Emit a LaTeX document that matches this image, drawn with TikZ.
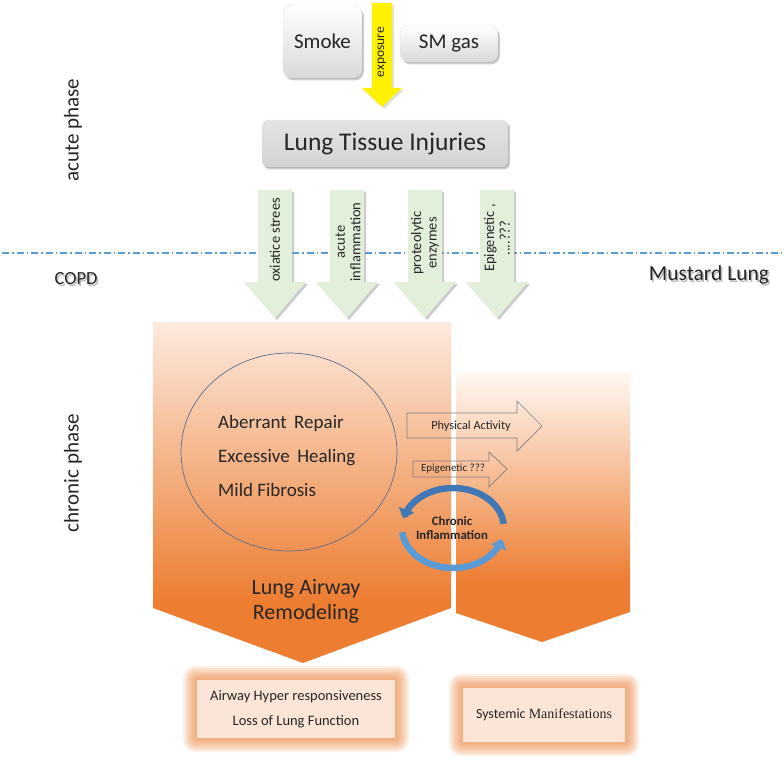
\documentclass[tikz,border=0pt]{standalone}
\usepackage{fontspec}
\setmainfont{Carlito}
\newfontfamily\timesf{Liberation Serif}
\usetikzlibrary{shadows,arrows.meta,calc,shapes.geometric}
\definecolor{orD}{HTML}{ED7D31}
\definecolor{orT}{HTML}{FCEADE}
\definecolor{orTT}{HTML}{FFF9F4}
\definecolor{grn}{HTML}{E2EFDA}
\definecolor{blu}{HTML}{5B9BD5}
\definecolor{bluD}{HTML}{3F78B5}
\definecolor{peach}{HTML}{FBE5D6}
\definecolor{cirl}{HTML}{5A6F8F}
\definecolor{ink}{HTML}{262626}
\pgfdeclareverticalshading{orgL}{100bp}{color(0bp)=(orD); color(34bp)=(orD); color(75bp)=(orT); color(100bp)=(orT)}
\pgfdeclareverticalshading{orgR}{100bp}{color(0bp)=(orD); color(36bp)=(orD); color(75bp)=(orTT); color(100bp)=(orTT)}
\begin{document}
\begin{tikzpicture}[x=1pt,y=-1pt,
  txt/.style={text=ink, inner sep=0pt},
  softshadow/.style={drop shadow={shadow xshift=2pt, shadow yshift=-2.5pt, fill=black, opacity=0.18},
                     drop shadow={shadow xshift=1pt, shadow yshift=-1.2pt, fill=black, opacity=0.12}},
  topbox/.style={rounded corners=9pt, top color=white, bottom color=black!15, draw=black!10, line width=0.4pt,
     softshadow, inner sep=0pt},
  greyshadow/.style={drop shadow={shadow xshift=2pt, shadow yshift=-2pt, fill=black!45, opacity=0.45}},
  smallarrow/.style={draw=black!50, line width=0.7pt},
  peachbox/.style={fill=peach, inner sep=0pt, align=center, text=ink},
  shadowtxt/.style={text=black!60, opacity=0.45, inner sep=0pt}
]
\useasboundingbox (0,0) rectangle (784,762);
\fill[white] (0,0) rectangle (784,762);

% phase labels
\node[txt, rotate=90, font=\fontsize{21}{25}\selectfont] (acute) at (73,130) {acute phase};
\node[txt, rotate=90, font=\fontsize{21}{25}\selectfont] (chronic) at (73,473) {chronic phase};

% dash-dot separator
\coordinate (dl) at (2,253);
\coordinate (dr) at (784,253);
\draw[blu, line width=1.2pt, dash pattern=on 7pt off 3pt on 1.5pt off 3pt] (dl) -- (dr);

\node[shadowtxt, font=\fontsize{18.5}{22}\selectfont] at (77.5,280.5) {COPD};
\node[txt, font=\fontsize{18.5}{22}\selectfont] (copd) at (76,279) {COPD};
\node[shadowtxt, font=\fontsize{21.5}{25}\selectfont] at (710.5,276.5) {Mustard Lung};
\node[txt, font=\fontsize{21.5}{25}\selectfont] (mustard) at (709,275) {Mustard Lung};

% top boxes
\node[topbox, minimum width=79pt, minimum height=73pt, font=\fontsize{21}{25}\selectfont, text=ink] (smoke) at (322.5,41.5) {Smoke};
\node[topbox, minimum width=98pt, minimum height=37pt, font=\fontsize{21}{25}\selectfont, text=ink] (smgas) at (449,43.5) {SM gas};

% yellow exposure arrow
\fill[black!30, opacity=0.4] (374,5) -- (394,5) -- (394,90) -- (404,90) -- (384,109) -- (364,90) -- (374,90) -- cycle;
\fill[yellow] (372,3) -- (392,3) -- (392,88) -- (402,88) -- (382,107) -- (362,88) -- (372,88) -- cycle;
\node[txt, rotate=90, font=\fontsize{13.5}{15}\selectfont] (exposure) at (382,52) {exposure};

% lung tissue injuries
\node[rounded corners=6pt, top color=black!11, bottom color=black!17, inner sep=0pt, softshadow,
      minimum width=246pt, minimum height=47pt, font=\fontsize{25.5}{30}\selectfont, text=ink] (lti) at (385,143.5) {Lung Tissue Injuries};

% orange chevrons
\shade[shading=orgR] (456,372) -- (630,372) -- (630,612) -- (542,642) -- (456,613) -- cycle;
\shade[shading=orgL] (153,322) -- (451,322) -- (451,608) -- (303,663) -- (153,608) -- cycle;

% green arrows
\foreach \c in {275,347,425,497}{
  \path[fill=grn, greyshadow] ({\c-17},190) -- ({\c+17},190) -- ({\c+17},282) -- ({\c+31},282) -- (\c,318) -- ({\c-31},282) -- ({\c-17},282) -- cycle;
}
\node[txt, rotate=90, font=\fontsize{14.5}{15.5}\selectfont, align=center] (g1) at (275,240) {oxiatice strees};
\node[txt, rotate=90, font=\fontsize{14.5}{15.5}\selectfont, align=center] (g2) at (348,242) {acute\\inflammation};
\node[txt, rotate=90, font=\fontsize{14.5}{15.5}\selectfont, align=center] (g3) at (425,243) {proteolytic\\enzymes};
\node[txt, rotate=90, font=\fontsize{14.5}{15.5}\selectfont, align=center] (g4) at (497,238) {Epigenetic ,\\....???};

% circle
\node[ellipse, draw=cirl, line width=0.7pt, minimum width=216pt, minimum height=198pt, inner sep=0pt] (circ) at (289,452) {};
\node[txt, anchor=west, align=left, font=\fontsize{19}{34}\selectfont] (circtxt) at (218,456) {Aberrant\, Repair\\Excessive\, Healing\\Mild Fibrosis};

\node[txt, align=center, font=\fontsize{22}{25}\selectfont] (law) at (306,601.5) {Lung Airway\\Remodeling};

% small arrows
\draw[smallarrow] (407,413) -- (517,413) -- (517,401) -- (542,426) -- (517,451) -- (517,438) -- (407,438) -- cycle;
\node[txt, font=\fontsize{12.3}{14}\selectfont] (pa) at (471,426) {Physical Activity};
\draw[smallarrow] (413,461) -- (489,461) -- (489,452) -- (507,469) -- (489,487) -- (489,477) -- (413,477) -- cycle;
\node[txt, font=\fontsize{11}{14}\selectfont] (epi) at (453,469) {Epigenetic ???};

% chronic inflammation cycle
\draw[bluD, line width=6.5pt, -{Triangle[width=16pt,length=9pt]}] plot[smooth, domain=-6:-166, samples=40] ({453+51*cos(\x)},{528+40*sin(\x)});
\draw[blu, line width=6.5pt, -{Triangle[width=16pt,length=9pt]}] plot[smooth, domain=174:16, samples=40] ({453+51*cos(\x)},{528+40*sin(\x)});
\node[txt, align=center, font=\bfseries\fontsize{12.8}{14}\selectfont] (ci) at (452,528.5) {Chronic\\Inflammation};

% bottom boxes with glow
\foreach \e in {2,4,...,14}{
  \fill[orD, opacity=0.12, rounded corners={\e*0.9pt}] ({197-\e},{680-\e}) rectangle ({395+\e},{738+\e});
  \fill[orD, opacity=0.12, rounded corners={\e*0.9pt}] ({463-\e},{688-\e}) rectangle ({625+\e},{742+\e});
}
\node[peachbox, minimum width=198pt, minimum height=58pt, font=\fontsize{14.5}{25}\selectfont] (b1) at (296,709) {Airway Hyper responsiveness\\Loss of Lung Function};
\node[peachbox, minimum width=162pt, minimum height=54pt, font=\fontsize{14}{18}\selectfont] (b2) at (544,715) {Systemic {\timesf Manifestations}};
\end{tikzpicture}
\end{document}
